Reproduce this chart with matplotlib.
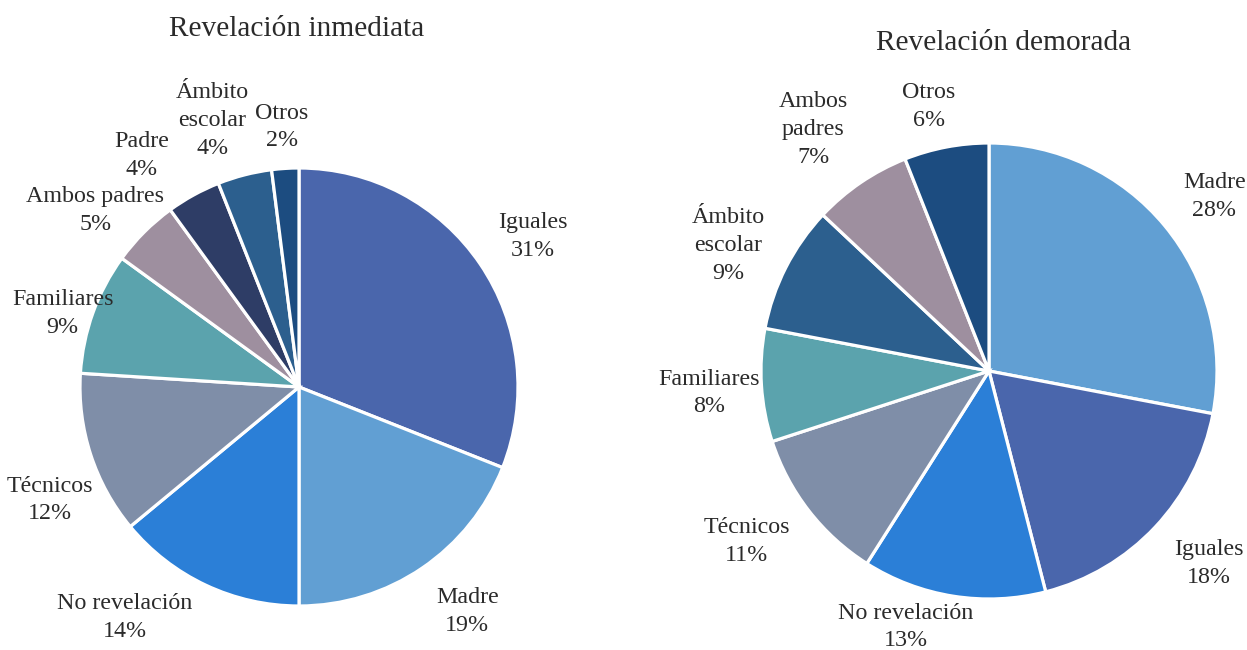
import numpy as np
import matplotlib
matplotlib.use("Agg")
import matplotlib.pyplot as plt

# ---------------- data ----------------
left_title = "Revelación inmediata"
left_labels = ["Iguales", "Madre", "No revelación", "Técnicos", "Familiares",
               "Ambos padres", "Padre", "Ámbito\nescolar", "Otros"]
left_values = [31, 19, 14, 12, 9, 5, 4, 4, 2]

right_title = "Revelación demorada"
right_labels = ["Madre", "Iguales", "No revelación", "Técnicos", "Familiares",
                "Ámbito\nescolar", "Ambos\npadres", "Otros"]
right_values = [28, 18, 13, 11, 8, 9, 7, 6]

# ---------------- style ----------------
color_map = {
    "Iguales": "#4A66AC",
    "Madre": "#619FD3",
    "No revelación": "#2B7FD7",
    "Técnicos": "#7F8EA8",
    "Familiares": "#5BA3AD",
    "Ambos padres": "#9E8F9F",
    "Ambos\npadres": "#9E8F9F",
    "Padre": "#2E3D66",
    "Ámbito\nescolar": "#2C5F8E",
    "Otros": "#1C4C80",
}
# per-label (angle shift in degrees, radial distance) for label placement
left_label_adj = [(-1.5, 1.27), (2.7, 1.28), (-11.9, 1.32), (6.4, 1.25), (2.6, 1.13),
                  (4.1, 1.23), (5.4, 1.28), (3.6, 1.28), (0.2, 1.19)]
right_label_adj = [(-1.8, 1.25), (2.0, 1.28), (-9.0, 1.18), (-2.6, 1.30), (0.9, 1.23),
                   (1.3, 1.27), (1.8, 1.31), (2.0, 1.19)]

text_color = "#2b2b2b"
font = "Liberation Serif"
plt.rcParams["font.family"] = [font, "DejaVu Serif"]

W, H = 1247, 650
fig = plt.figure(figsize=(W / 100, H / 100), dpi=100)
fig.patch.set_facecolor("white")


def draw_pie(box, labels, values, adj):
    cx, cy, r = box
    ax = fig.add_axes([(cx - r) / W, (H - cy - r) / H, 2 * r / W, 2 * r / H])
    colors = [color_map[l] for l in labels]
    wedges, _ = ax.pie(values, colors=colors, startangle=90, counterclock=False,
                       radius=1.0,
                       wedgeprops=dict(edgecolor="white", linewidth=2.3))
    ax.set_xlim(-1, 1)
    ax.set_ylim(-1, 1)
    ax.set_aspect("equal")
    ax.axis("off")
    total = float(sum(values))
    for w, lab, v, (da, dist) in zip(wedges, labels, values, adj):
        mid = 0.5 * (w.theta1 + w.theta2) + da
        x = dist * np.cos(np.radians(mid))
        y = dist * np.sin(np.radians(mid))
        ax.text(x, y, f"{lab}\n{round(100 * v / total):.0f}%", ha="center", va="center",
                fontsize=17.3, color=text_color, linespacing=1.42, clip_on=False)
    return ax


draw_pie((299, 387, 219), left_labels, left_values, left_label_adj)
draw_pie((989, 371, 228), right_labels, right_values, right_label_adj)

fig.text(297 / W, 1 - 29 / H, left_title, ha="center", va="center",
         fontsize=21.2, color=text_color)
fig.text(1004 / W, 1 - 43 / H, right_title, ha="center", va="center",
         fontsize=21.2, color=text_color)

fig.savefig("out.png", dpi=100, facecolor="white")
